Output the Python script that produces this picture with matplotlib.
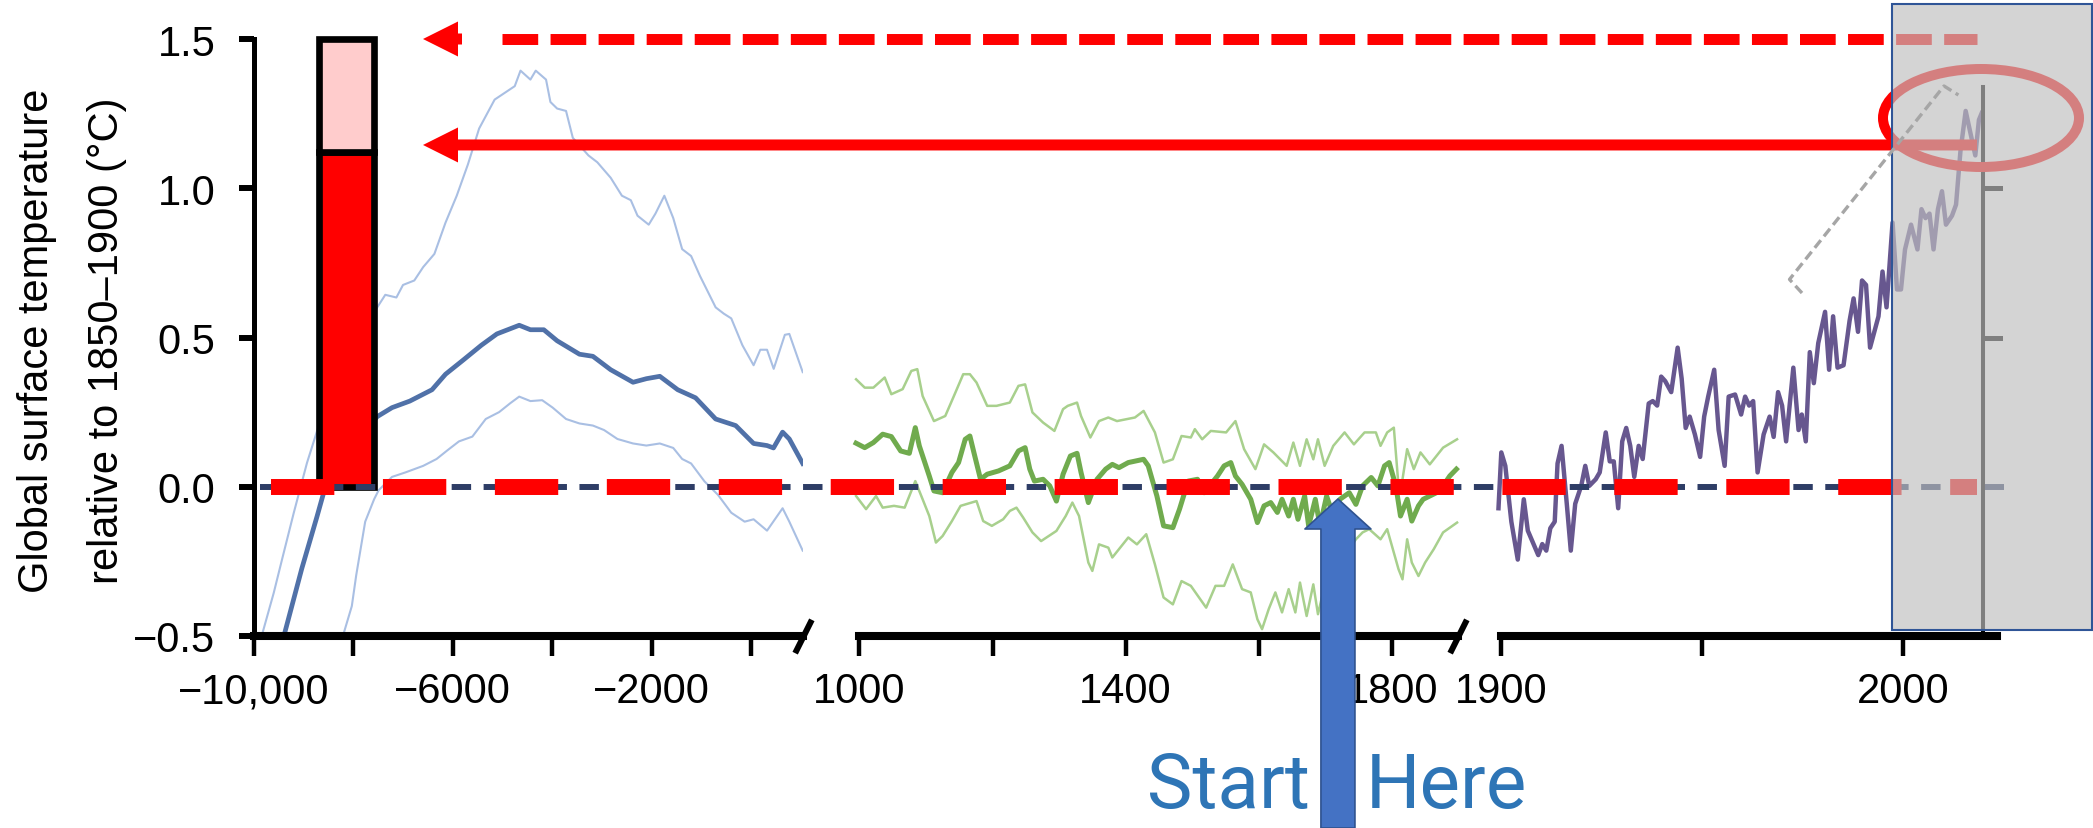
import numpy as np
import matplotlib
matplotlib.use('Agg')
import matplotlib.pyplot as plt
from matplotlib import transforms
from matplotlib.patches import Ellipse, Rectangle

plt.rcParams['lines.scale_dashes'] = False
plt.rcParams['font.family'] = ['Liberation Sans', 'DejaVu Sans']

W, H = 2093, 829

# ---- Holocene reconstruction (years, deg C)
holo_yr = [-9391, -9031, -8726, -8474, -7515, -7218, -6860, -6414, -6142, -5783, -5423, -5110,
           -4661, -4436, -4167, -3899, -3450, -3180, -2822, -2373, -2105, -1835, -1475, -1117,
           -713, -310, 50, 320, 450, 633, 768, 1037]
holo_mid = [-0.5, -0.274, -0.10, 0.05, 0.235, 0.265, 0.287, 0.325, 0.377, 0.425, 0.474, 0.512,
            0.541, 0.526, 0.526, 0.489, 0.444, 0.437, 0.392, 0.35, 0.362, 0.37, 0.325, 0.298,
            0.227, 0.205, 0.145, 0.138, 0.13, 0.183, 0.16, 0.078]
holo_hi_yr = [-9821, -9596, -9417, -9192, -8927, -8705, -7515, -7353, -7130, -6997, -6770, -6591,
              -6366, -6142, -5917, -5692, -5467, -5155, -4751, -4635, -4436, -4329, -4122, -4034,
              -3899, -3720, -3584, -3270, -3091, -2822, -2597, -2418, -2283, -2058, -1923, -1744,
              -1565, -1386, -1206, -1027, -713, -550, -399, -175, 50, 185, 320, 454, 678, 768, 1037]
holo_hi = [-0.49, -0.356, -0.236, -0.087, 0.08, 0.197, 0.601, 0.643, 0.634, 0.676, 0.691, 0.736,
           0.78, 0.885, 0.975, 1.08, 1.2, 1.297, 1.342, 1.394, 1.364, 1.394, 1.364, 1.289,
           1.267, 1.259, 1.169, 1.11, 1.087, 1.035, 0.975, 0.96, 0.908, 0.878, 0.915, 0.975,
           0.9, 0.796, 0.773, 0.706, 0.601, 0.58, 0.564, 0.474, 0.407, 0.459, 0.459, 0.395, 0.509, 0.512, 0.384]
holo_lo_yr = [-8205, -8026, -7937, -7757, -7578, -7488, -7218, -6949, -6591, -6322,
              -6097, -5872, -5603, -5334, -5065, -4840, -4661, -4436, -4200, -3988,
              -3720, -3450, -3180, -2956, -2687, -2373, -2105, -1835, -1565, -1386,
              -1206, -937, -667, -399, -130, 50, 320, 633, 768, 1037]
holo_lo = [-0.5, -0.4, -0.296, -0.117, -0.042, -0.012, 0.033, 0.048, 0.07, 0.093,
           0.123, 0.152, 0.168, 0.227, 0.25, 0.28, 0.302, 0.287, 0.29, 0.265,
           0.227, 0.212, 0.205, 0.19, 0.16, 0.145, 0.138, 0.145, 0.13, 0.093,
           0.078, 0.018, -0.027, -0.087, -0.117, -0.109, -0.147, -0.072, -0.117, -0.214]

# ---- last millennium reconstruction
mill_yr = [995, 1008, 1021, 1035, 1048, 1062, 1075, 1084, 1090, 1105, 1112, 1125, 1139, 1149, 1159,
           1166, 1172, 1182, 1192, 1209, 1226, 1239, 1249, 1256, 1263, 1276, 1286, 1296, 1306, 1317,
           1327, 1333, 1344, 1357, 1370, 1380, 1390, 1404, 1427, 1434, 1447, 1457, 1471, 1481, 1494,
           1508, 1518, 1528, 1538, 1548, 1558, 1565, 1575, 1588, 1598, 1608, 1618, 1628, 1635, 1645,
           1652, 1659, 1669, 1675, 1685, 1692, 1702, 1712, 1722, 1736, 1746, 1756, 1769, 1779, 1789,
           1796, 1806, 1813, 1823, 1830, 1840, 1847, 1857, 1867, 1877, 1887, 1897]
mill_mid = [0.146, 0.131, 0.148, 0.176, 0.168, 0.12, 0.112, 0.198, 0.137, 0.036, -0.014, -0.02, 0.048, 0.081, 0.159,
            0.17, 0.115, 0.025, 0.042, 0.053, 0.07, 0.12, 0.131, 0.059, 0.019, 0.025, 0.003, -0.048, 0.042, 0.103,
            0.112, 0.048, -0.053, 0.025, 0.059, 0.075, 0.064, 0.081, 0.092, 0.07, -0.031, -0.131, -0.137, -0.075, 0.019,
            0.025, -0.02, 0.008, 0.036, 0.07, 0.081, 0.036, 0.008, -0.042, -0.12, -0.064, -0.053, -0.086, -0.042, -0.098,
            -0.042, -0.109, -0.031, -0.131, -0.042, -0.131, -0.031, -0.098, -0.042, -0.02, -0.059, 0.003, 0.031, 0.003, 0.07,
            0.081, 0.003, -0.098, -0.042, -0.115, -0.064, -0.042, -0.031, -0.02, 0.003, 0.036, 0.059]
mill_hi_yr = [995, 1008, 1021, 1038, 1048, 1065, 1078, 1087, 1095, 1112, 1129, 1142, 1156, 1166, 1176,
              1192, 1206, 1226, 1239, 1249, 1260, 1276, 1293, 1306, 1313, 1327, 1333, 1347, 1360, 1374,
              1387, 1414, 1427, 1444, 1457, 1471, 1484, 1498, 1504, 1515, 1528, 1551, 1565, 1578, 1595,
              1608, 1622, 1642, 1652, 1662, 1672, 1682, 1689, 1699, 1712, 1729, 1743, 1759, 1776, 1783,
              1793, 1803, 1810, 1816, 1823, 1833, 1843, 1857, 1867, 1877, 1898]
mill_hi = [0.36, 0.332, 0.332, 0.366, 0.31, 0.327, 0.388, 0.394, 0.304, 0.22, 0.237, 0.304, 0.377, 0.377, 0.349,
           0.271, 0.271, 0.282, 0.338, 0.343, 0.249, 0.215, 0.187, 0.26, 0.271, 0.282, 0.237, 0.165, 0.22, 0.232,
           0.22, 0.232, 0.254, 0.182, 0.081, 0.092, 0.17, 0.165, 0.193, 0.159, 0.187, 0.182, 0.22, 0.126, 0.059,
           0.142, 0.115, 0.07, 0.148, 0.07, 0.159, 0.092, 0.159, 0.07, 0.137, 0.182, 0.142, 0.182, 0.182, 0.137,
           0.182, 0.198, 0.003, 0.025, 0.126, 0.059, 0.115, 0.075, 0.103, 0.131, 0.159]
mill_lo_yr = [995, 1010, 1025, 1035, 1052, 1068, 1084, 1095, 1105, 1115, 1125, 1139, 1152, 1176, 1186,
              1199, 1216, 1226, 1236, 1246, 1260, 1273, 1296, 1310, 1320, 1330, 1344, 1350, 1360, 1374,
              1380, 1404, 1417, 1431, 1444, 1457, 1471, 1484, 1498, 1521, 1535, 1548, 1561, 1575, 1588,
              1598, 1605, 1615, 1625, 1635, 1645, 1655, 1662, 1672, 1682, 1689, 1699, 1746, 1756, 1766,
              1783, 1793, 1810, 1816, 1823, 1830, 1840, 1850, 1863, 1877, 1898]
mill_lo = [-0.031, -0.075, -0.031, -0.07, -0.064, -0.07, 0.019, -0.042, -0.098, -0.187, -0.165, -0.115, -0.064, -0.048, -0.115,
           -0.131, -0.109, -0.081, -0.07, -0.103, -0.153, -0.182, -0.148, -0.098, -0.053, -0.098, -0.254, -0.282, -0.193, -0.204,
           -0.237, -0.17, -0.193, -0.159, -0.26, -0.371, -0.394, -0.316, -0.332, -0.405, -0.332, -0.332, -0.26, -0.343, -0.354,
           -0.444, -0.477, -0.41, -0.354, -0.421, -0.343, -0.421, -0.321, -0.433, -0.327, -0.427, -0.332, -0.176, -0.153, -0.142,
           -0.176, -0.142, -0.276, -0.31, -0.176, -0.254, -0.299, -0.254, -0.209, -0.153, -0.12]

# ---- observed annual record
obs_yr = [1899.3, 1900.0, 1901.0, 1902.5, 1904.1, 1905.6, 1906.6, 1909.2, 1910.2, 1911.2,
          1912.2, 1913.3, 1914.0, 1915.0, 1916.3, 1917.3, 1918.4, 1919.9, 1920.9, 1921.9,
          1923.5, 1924.5, 1926.0, 1927.0, 1928.0, 1929.1, 1930.1, 1931.1, 1932.1, 1933.1,
          1934.2, 1935.2, 1936.7, 1937.7, 1938.8, 1939.8, 1940.8, 1942.3, 1943.9, 1944.9,
          1945.9, 1946.9, 1948.2, 1949.5, 1950.5, 1951.5, 1953.0, 1954.1, 1955.6, 1956.6,
          1958.2, 1959.7, 1960.7, 1961.7, 1962.7, 1963.8, 1965.3, 1966.8, 1967.8, 1968.9,
          1969.9, 1970.9, 1972.7, 1974.0, 1974.8, 1975.8, 1976.8, 1977.8, 1978.9, 1980.6,
          1981.6, 1982.6, 1983.7, 1985.2, 1986.7, 1987.7, 1988.8, 1989.8, 1990.8, 1991.8,
          1993.9, 1994.9, 1995.9, 1997.4, 1998.5, 1999.5, 2000.5, 2002.0, 2003.6, 2004.6,
          2005.6, 2006.6, 2007.6, 2008.7, 2009.7, 2010.7, 2012.2, 2013.2, 2014.3, 2015.6,
          2016.8, 2018.0, 2018.9, 2019.6]
obs_val = [-0.072, 0.115, 0.07, -0.117, -0.244, -0.042, -0.147, -0.229, -0.192, -0.214,
           -0.139, -0.117, 0.078, 0.137, -0.057, -0.214, -0.057, 0.003, 0.07, 0.003,
           0.025, 0.048, 0.182, 0.085, 0.085, -0.072, 0.152, 0.197, 0.137, 0.033,
           0.137, 0.093, 0.279, 0.287, 0.272, 0.369, 0.354, 0.317, 0.466, 0.362,
           0.197, 0.235, 0.175, 0.1, 0.235, 0.302, 0.392, 0.19, 0.07, 0.302,
           0.309, 0.242, 0.302, 0.272, 0.287, 0.048, 0.175, 0.235, 0.167, 0.317,
           0.272, 0.152, 0.399, 0.19, 0.242, 0.152, 0.451, 0.347, 0.481, 0.586,
           0.392, 0.571, 0.399, 0.407, 0.556, 0.631, 0.519, 0.691, 0.676, 0.466,
           0.571, 0.721, 0.601, 0.885, 0.661, 0.661, 0.795, 0.878, 0.795, 0.93,
           0.9, 0.915, 0.795, 0.93, 0.99, 0.878, 0.908, 0.945, 1.124, 1.259,
           1.184, 1.11, 1.229, 1.252]

# warming bar: observed part + range above it
bar_year = -8133
bar_parts = [1.12, 0.38]
bar_colors = ['#FF0000', '#FFCCCC']
levels = [1.5, 1.145, 0.0]   # dashed arrow, solid arrow, baseline
arrow_year, arrow_val = 1719, -0.041
right_ax_ticks = [0.5, 1.0]

y_ticks = [-0.5, 0.0, 0.5, 1.0, 1.5]
y_labels = ['\u22120.5', '0.0', '0.5', '1.0', '1.5']
x1_ticks = [-10000, -8000, -6000, -4000, -2000, 0]
x1_labels = ['\u221210,000', '', '\u22126000', '', '\u22122000', '']
x2_ticks = [1000, 1200, 1400, 1600, 1800]
x2_labels = ['1000', '', '1400', '', '1800']
x3_ticks = [1900, 1950, 2000]
x3_labels = ['1900', '', '2000']

fig = plt.figure(figsize=(W / 100, H / 100), dpi=100)
bot, hgt = 192 / H, 597 / H
ax1 = fig.add_axes([253.6 / W, bot, 549.4 / W, hgt])
ax2 = fig.add_axes([859.4 / W, bot, 599.0 / W, hgt])
ax3 = fig.add_axes([1501.3 / W, bot, 495.7 / W, hgt])

for ax in (ax1, ax2, ax3):
    ax.set_facecolor('none')
    ax.set_ylim(-0.5, 1.5)
    for s in ('top', 'right', 'left'):
        ax.spines[s].set_visible(False)
    ax.spines['bottom'].set_linewidth(5.8)
    ax.tick_params(axis='x', length=14.4, width=3.2, pad=11, labelsize=30)
    ax.tick_params(axis='y', left=False, labelleft=False)

# break marks at the end of the first two panels
for ax in (ax1, ax2):
    ax.plot([1], [0], transform=ax.transAxes, marker=[(-0.5, -1), (0.5, 1)],
            ms=24, mew=4.3, color='k', clip_on=False)

ax1.spines['left'].set_visible(True)
ax1.spines['left'].set_linewidth(3.6)
ax1.tick_params(axis='y', left=True, labelleft=True, length=10.5, width=4.3, pad=17, labelsize=30)
ax1.set_yticks(y_ticks)
ax1.set_yticklabels(y_labels)

ax1.set_xlim(-10000, 1043)
ax1.set_xticks(x1_ticks)
ax1.set_xticklabels(x1_labels)
ax2.set_xlim(1000, 1900)
ax2.set_xticks(x2_ticks)
ax2.set_xticklabels(x2_labels)
ax3.set_xlim(1900, 2023.4)
ax3.set_xticks(x3_ticks)
ax3.set_xticklabels(x3_labels)

# reconstructions
ax1.plot(holo_hi_yr, holo_hi, color='#A9BFE3', lw=1.5)
ax1.plot(holo_lo_yr, holo_lo, color='#A9BFE3', lw=1.5)
ax1.plot(holo_yr, holo_mid, color='#5071A8', lw=3.4)
ax2.plot(mill_hi_yr, mill_hi, color='#A8D08D', lw=1.8, clip_on=False)
ax2.plot(mill_lo_yr, mill_lo, color='#A8D08D', lw=1.8, clip_on=False)
ax2.plot(mill_yr, mill_mid, color='#70AB4E', lw=3.6, clip_on=False)
ax3.plot(obs_yr, obs_val, color='#67578F', lw=3.2, clip_on=False)

# right-hand axis of the recent panel
ax3.plot([2020, 2020], [-0.49, 1.34], color='k', lw=2.9, clip_on=False)
for t in right_ax_ticks:
    ax3.plot([2020, 2024.2], [t, t], color='k', lw=3.6, clip_on=False)

# warming bar
bottoms = np.cumsum([0] + bar_parts[:-1])
ax1.bar([bar_year] * 2, bar_parts, bottom=bottoms, width=1089, color=bar_colors,
        edgecolor='k', linewidth=4.8, clip_on=False, zorder=3)

ylabel = 'Global surface temperature\nrelative to 1850\u20131900 (\u00b0C)'
fig.text(72 / W, 1 - 341 / H, ylabel, rotation=90, ha='center', va='center',
         fontsize=30, linespacing=1.95)

# overlay for annotations (x in figure pixels, y through ax1's temperature scale)
ov = fig.add_axes([0, 0, 1, 1])
ov.patch.set_alpha(0)
ov.axis('off')
blend = transforms.blended_transform_factory(ov.transData, ax1.transData)

ov.plot([259.5, 2004], [levels[2]] * 2, transform=blend, color='#2E3D66', lw=4.3,
        dashes=(14, 9), zorder=2)
ov.plot([271.4, 1977], [levels[2]] * 2, transform=blend, color='#FF0000', lw=11.5,
        dashes=(45.6, 35), zorder=3)
ov.plot([501.5, 1977], [levels[0]] * 2, transform=blend, color='#FF0000', lw=7.9,
        dashes=(25.7, 8.9), zorder=3)
head = dict(arrowstyle='simple,head_length=35,head_width=35,tail_width=11',
            mutation_scale=0.72, color='#FF0000', lw=0, shrinkA=0, shrinkB=0)
ov.annotate('', xy=(423, levels[0]), xycoords=blend, xytext=(462, levels[0]),
            textcoords=blend, arrowprops=head, zorder=3)
ov.annotate('', xy=(423, levels[1]), xycoords=blend, xytext=(1977, levels[1]),
            textcoords=blend, arrowprops=head, zorder=3)

ov.add_patch(Ellipse((1981, 119), 196, 98, fill=False, ec='#FF0000', lw=7.2, zorder=3))
ov.add_patch(Rectangle((1892, 5), 200, 626, fc=(0.749, 0.749, 0.749, 0.67),
                       ec='#2F5597', lw=1.5, zorder=4))
ov.plot([1802, 1789.5, 1944, 1958.4], [294, 280.4, 87, 96], color='#A6A6A6',
        lw=2.4, dashes=(7, 3.6), zorder=5)

# "Start Here" arrow
arr_tr = transforms.blended_transform_factory(ax2.transData, ov.transData)
ov.annotate('', xy=(arrow_year, arrow_val), xycoords=ax2.transData,
            xytext=(arrow_year, H), textcoords=arr_tr,
            arrowprops=dict(arrowstyle='simple,head_length=30,head_width=66,tail_width=34',
                            mutation_scale=0.72, fc='#4472C4', ec='#2F528F', lw=1.2,
                            shrinkA=0, shrinkB=0), zorder=6)
ov.text(1310, 808, 'Start', ha='right', va='baseline', fontsize=55, color='#2E75B6',
        family=['Roboto', 'DejaVu Sans'], zorder=6)
ov.text(1366, 808, 'Here', ha='left', va='baseline', fontsize=55, color='#2E75B6',
        family=['Roboto', 'DejaVu Sans'], zorder=6)

ov.set_xlim(0, W)
ov.set_ylim(H, 0)

fig.savefig('out.png', dpi=100)
